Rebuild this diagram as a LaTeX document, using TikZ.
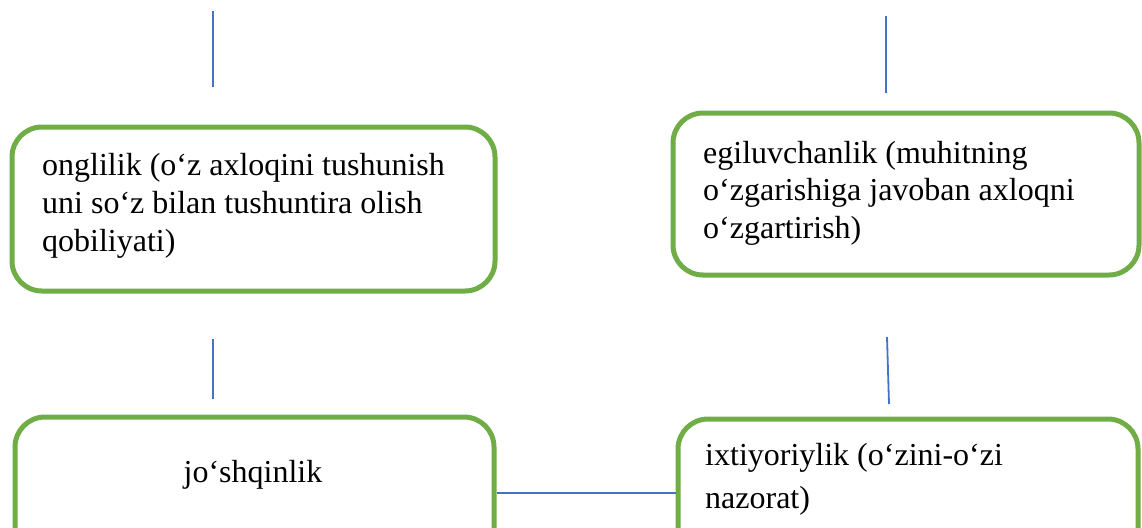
\documentclass[tikz,border=0pt]{standalone}
\usepackage{fontspec}
\setmainfont{Liberation Serif}
\definecolor{boxgreen}{HTML}{70AD47}
\definecolor{linkblue}{HTML}{4472C4}
\begin{document}
\begin{tikzpicture}[x=1pt,y=-1pt,
  box/.style={draw=boxgreen, line width=5pt, rounded corners=30pt, fill=white, inner sep=0pt},
  link/.style={draw=linkblue, line width=1.8pt},
  txt/.style={font=\fontsize{32}{37.5}\selectfont, inner sep=0pt, anchor=base west, align=left}]
\useasboundingbox (0,0) rectangle (1142,527);
\clip (0,0) rectangle (1142,527);
% boxes
\node[box, minimum width=483pt, minimum height=164pt] (b1) at (253.5,209) {};
\node[box, minimum width=466pt, minimum height=162pt] (b2) at (906,194) {};
\node[box, minimum width=479pt, minimum height=163pt] (b3) at (254.5,498.5) {};
\node[box, minimum width=460pt, minimum height=163pt] (b4) at (908,500.5) {};
% texts (base anchor = baseline of the last line)
\node[txt, font=\fontsize{32}{38}\selectfont] (t1) at (42,251) {onglilik (o‘z axloqini tushunish\\uni so‘z bilan tushuntira olish\\qobiliyati)};
\node[txt] (t2) at (703,238) {egiluvchanlik (muhitning\\o‘zgarishiga javoban axloqni\\o‘zgartirish)};
\node[txt, anchor=base] (t3) at (253,482) {jo‘shqinlik};
\node[txt, font=\fontsize{32}{43}\selectfont] (t4) at (705,508) {ixtiyoriylik (o‘zini-o‘zi\\nazorat)};
% free line ends
\coordinate (a1) at (213,11);
\coordinate (a2) at (213,87);
\coordinate (c1) at (886,16);
\coordinate (c2) at (886,93);
\coordinate (d1) at (213,339);
\coordinate (d2) at (213,399);
\coordinate (e1) at (887,337);
\coordinate (e2) at (889,404);
\coordinate (h) at (0,493);
\draw[link] (a1) -- (a2);
\draw[link] (c1) -- (c2);
\draw[link] (d1) -- (d2);
\draw[link] (e1) -- (e2);
\draw[link] (b3.east |- h) -- (b4.west |- h);
\end{tikzpicture}
\end{document}
